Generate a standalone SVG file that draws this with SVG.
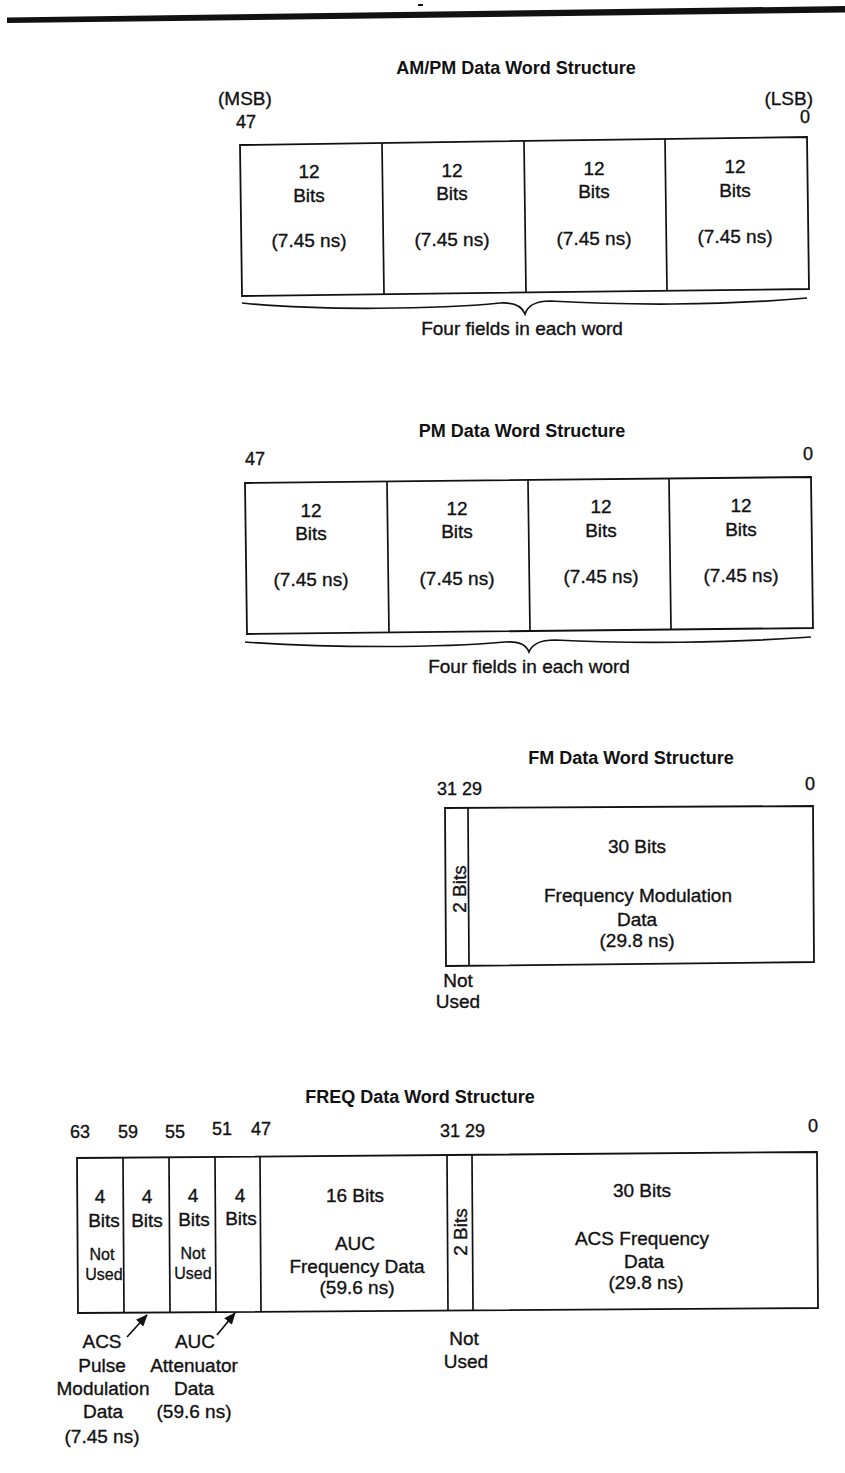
<svg xmlns="http://www.w3.org/2000/svg" width="845" height="1473" viewBox="0 0 845 1473">
<defs>
<style>
.t{font-family:"Liberation Sans",Arial,sans-serif;font-size:19px;fill:#111;stroke:#111;stroke-width:0.35;text-anchor:middle}
.s{font-family:"Liberation Sans",Arial,sans-serif;font-size:16px;fill:#111;stroke:#111;stroke-width:0.3;text-anchor:middle}
.h{font-family:"Liberation Sans",Arial,sans-serif;font-size:18px;font-weight:bold;fill:#111;text-anchor:middle}
.n{font-family:"Liberation Sans",Arial,sans-serif;font-size:18px;fill:#111;stroke:#111;stroke-width:0.35;text-anchor:start}
.ne{font-family:"Liberation Sans",Arial,sans-serif;font-size:18px;fill:#111;stroke:#111;stroke-width:0.35;text-anchor:end}
.box{fill:none;stroke:#111;stroke-width:1.8;stroke-linejoin:miter}
.div{stroke:#111;stroke-width:1.7}
.brace{fill:none;stroke:#111;stroke-width:1.7}
.arr{stroke:#111;stroke-width:1.7;fill:none}
</style>
<marker id="ah" viewBox="0 0 12 10" refX="11" refY="5" markerWidth="12" markerHeight="10" markerUnits="userSpaceOnUse" orient="auto">
<path d="M0,0 L12,5 L0,10 z" fill="#111"/>
</marker>
</defs>
<rect width="845" height="1473" fill="#fff"/>

<!-- top rule -->
<polygon points="7,17.5 845,6 845,12.5 7,23" fill="#111"/>
<rect x="418" y="4" width="5" height="2" fill="#111"/>

<!-- AM/PM -->
<g id="ampm">
<text class="h" x="516" y="74">AM/PM Data Word Structure</text>
<text class="t" x="218" y="105" style="text-anchor:start">(MSB)</text>
<text class="n" x="236" y="128">47</text>
<text class="t" x="813" y="105" style="text-anchor:end">(LSB)</text>
<text class="ne" x="810" y="123">0</text>
<polygon class="box" points="240,145 807,137 809,289 242,296"/>
<line class="div" x1="382" y1="143" x2="384" y2="294.2"/>
<line class="div" x1="524" y1="141" x2="526" y2="292.5"/>
<line class="div" x1="665" y1="139" x2="667" y2="290.8"/>
<g id="ampm-f1"><text class="t" x="309" y="178">12</text><text class="t" x="309" y="202">Bits</text><text class="t" x="309" y="247">(7.45 ns)</text></g>
<g id="ampm-f2"><text class="t" x="452" y="177">12</text><text class="t" x="452" y="200">Bits</text><text class="t" x="452" y="246">(7.45 ns)</text></g>
<g id="ampm-f3"><text class="t" x="594" y="175">12</text><text class="t" x="594" y="198">Bits</text><text class="t" x="594" y="245">(7.45 ns)</text></g>
<g id="ampm-f4"><text class="t" x="735" y="173">12</text><text class="t" x="735" y="197">Bits</text><text class="t" x="735" y="243">(7.45 ns)</text></g>
<path class="brace" d="M242,303 C320,311 440,309 500,303 C515,302 522,306 525,314 C528,305 536,301 550,301 C620,305 720,306 807,298"/>
<text class="t" x="522" y="335">Four fields in each word</text>
</g>

<!-- PM -->
<g id="pm">
<text class="h" x="522" y="437">PM Data Word Structure</text>
<text class="n" x="245" y="465">47</text>
<text class="ne" x="813" y="460">0</text>
<polygon class="box" points="245,483 811,477 813,628 247,634"/>
<line class="div" x1="387" y1="481.5" x2="389" y2="632.5"/>
<line class="div" x1="528" y1="480" x2="530" y2="631"/>
<line class="div" x1="669" y1="478.5" x2="671" y2="629.5"/>
<g id="pm-f1"><text class="t" x="311" y="517">12</text><text class="t" x="311" y="540">Bits</text><text class="t" x="311" y="586">(7.45 ns)</text></g>
<g id="pm-f2"><text class="t" x="457" y="515">12</text><text class="t" x="457" y="538">Bits</text><text class="t" x="457" y="585">(7.45 ns)</text></g>
<g id="pm-f3"><text class="t" x="601" y="513">12</text><text class="t" x="601" y="537">Bits</text><text class="t" x="601" y="583">(7.45 ns)</text></g>
<g id="pm-f4"><text class="t" x="741" y="512">12</text><text class="t" x="741" y="536">Bits</text><text class="t" x="741" y="582">(7.45 ns)</text></g>
<path class="brace" d="M245,642 C330,648 440,648 505,642 C520,641 526,645 529,652 C532,644 540,640 555,640 C630,644 730,643 811,637"/>
<text class="t" x="529" y="673">Four fields in each word</text>
</g>

<!-- FM -->
<g id="fm">
<text class="h" x="631" y="764">FM Data Word Structure</text>
<text class="n" x="437" y="795">31 29</text>
<text class="ne" x="815" y="790">0</text>
<polygon class="box" points="445,808 813,806 814,962 446,966"/>
<line class="div" x1="468" y1="808" x2="469" y2="966"/>
<g id="fm-f1"><text class="t" transform="translate(466,889) rotate(-90)" x="0" y="0">2 Bits</text>
<text class="t" x="458" y="987">Not</text><text class="t" x="458" y="1008">Used</text></g>
<g id="fm-f2"><text class="t" x="637" y="853">30 Bits</text><text class="t" x="638" y="902">Frequency Modulation</text><text class="t" x="637" y="926">Data</text><text class="t" x="637" y="947">(29.8 ns)</text></g>
</g>

<!-- FREQ -->
<g id="freq">
<text class="h" x="420" y="1103">FREQ Data Word Structure</text>
<text class="n" x="70" y="1138">63</text>
<text class="n" x="118" y="1138">59</text>
<text class="n" x="165" y="1138">55</text>
<text class="n" x="212" y="1135">51</text>
<text class="n" x="251" y="1135">47</text>
<text class="n" x="440" y="1137">31 29</text>
<text class="ne" x="818" y="1132">0</text>
<polygon class="box" points="77,1158 817,1152 818,1308 78,1313"/>
<line class="div" x1="123" y1="1157.6" x2="124" y2="1312.7"/>
<line class="div" x1="169" y1="1157.3" x2="170" y2="1312.4"/>
<line class="div" x1="215" y1="1156.9" x2="216" y2="1312"/>
<line class="div" x1="260" y1="1156.5" x2="261" y2="1311.8"/>
<line class="div" x1="447" y1="1155" x2="448" y2="1310.5"/>
<line class="div" x1="472" y1="1154.8" x2="473" y2="1310.3"/>
<g id="freq-f1"><text class="t" x="100" y="1203">4</text><text class="t" x="104" y="1227">Bits</text><text class="s" x="102" y="1260">Not</text><text class="s" x="104" y="1280">Used</text></g>
<g id="freq-f2"><text class="t" x="147" y="1203">4</text><text class="t" x="147" y="1227">Bits</text></g>
<g id="freq-f3"><text class="t" x="193" y="1202">4</text><text class="t" x="194" y="1226">Bits</text><text class="s" x="193" y="1259">Not</text><text class="s" x="193" y="1279">Used</text></g>
<g id="freq-f4"><text class="t" x="240" y="1202">4</text><text class="t" x="241" y="1225">Bits</text></g>
<g id="freq-f5"><text class="t" x="355" y="1202">16 Bits</text><text class="t" x="355" y="1250">AUC</text><text class="t" x="357" y="1273">Frequency Data</text><text class="t" x="357" y="1294">(59.6 ns)</text></g>
<g id="freq-f6"><text class="t" transform="translate(467,1232) rotate(-90)" x="0" y="0">2 Bits</text>
<text class="t" x="464" y="1345">Not</text><text class="t" x="466" y="1368">Used</text></g>
<g id="freq-f7"><text class="t" x="642" y="1197">30 Bits</text><text class="t" x="642" y="1245">ACS Frequency</text><text class="t" x="644" y="1268">Data</text><text class="t" x="646" y="1289">(29.8 ns)</text></g>
<g id="lbl-acs"><text class="t" x="102" y="1348">ACS</text><text class="t" x="102" y="1372">Pulse</text><text class="t" x="103" y="1395">Modulation</text><text class="t" x="103" y="1418">Data</text><text class="t" x="102" y="1443">(7.45 ns)</text></g>
<g id="lbl-auc"><text class="t" x="195" y="1348">AUC</text><text class="t" x="194" y="1372">Attenuator</text><text class="t" x="194" y="1395">Data</text><text class="t" x="194" y="1418">(59.6 ns)</text></g>
</g>

<g id="connectors">
<line class="arr" x1="127" y1="1337" x2="147" y2="1315" marker-end="url(#ah)"/>
<line class="arr" x1="217" y1="1335" x2="235" y2="1313" marker-end="url(#ah)"/>
</g>
</svg>
